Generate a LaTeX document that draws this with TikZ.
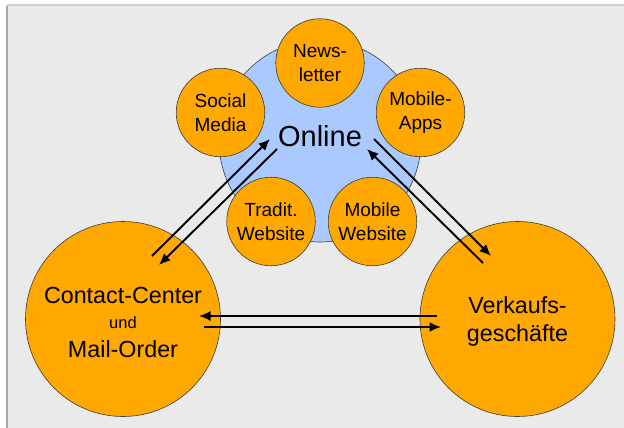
\documentclass[tikz,border=0pt]{standalone}
\usepackage{fontspec}
\setmainfont{Liberation Sans}
\usetikzlibrary{arrows.meta}
\definecolor{panelgray}{HTML}{EAEAEA}
\definecolor{channelorange}{HTML}{FFA800}
\definecolor{onlineblue}{HTML}{A9C9FF}
\definecolor{rimgray}{HTML}{3C3C3C}
\tikzset{
    channel/.style={circle, fill=channelorange, draw=rimgray, line width=0.6pt, inner sep=0pt, align=center},
    bigchannel/.style={channel, minimum size=195pt, font=\fontsize{23.3}{28}\selectfont},
    subchannel/.style={channel, minimum size=88.5pt, font=\fontsize{19}{24}\selectfont},
    hub/.style={circle, fill=onlineblue, draw=rimgray, line width=0.6pt, inner sep=0pt, minimum size=202pt},
    flow/.style={-{Latex[length=11.5pt,width=10pt]}, line width=1.9pt},
}
\begin{document}
\begin{tikzpicture}[x=1pt,y=-1pt]
        \useasboundingbox (0,0) rectangle (624,428);
        \fill [white] (0,0) rectangle (624,428);
        \fill [panelgray] (7,6) rectangle (624,428);
        \draw [gray!40, line width=2pt] (7,5) -- (624,5);
        \draw [gray!70, line width=1.2pt] (7,6) -- (7,428);
        % the three channels
        \node [bigchannel] (contact) at (123,319) {\rule{0pt}{23pt}Contact-Center\\[-3pt]{\fontsize{16.5}{20}\selectfont und}\\[1pt]Mail-Order};
        \node [bigchannel] (shops) at (517.5,319) {\rule{0pt}{22pt}Verkaufs-\\geschäfte};
        \node [hub] (online) at (320,141) {};
        % online sub-channels
        \node [subchannel] (newsletter) at (320,63) {News-\\letter};
        \node [subchannel] (social) at (220.5,112.5) {Social\\Media};
        \node [subchannel] (apps) at (420.5,112.5) {Mobile-\\Apps};
        \node [subchannel] (website) at (271,221.5) {Tradit.\\Website};
        \node [subchannel] (mobileweb) at (372.5,221.5) {Mobile\\Website};
        \node [font=\fontsize{29}{34}\selectfont] (onlinetext) at (320,136.5) {Online};
        % flows between channels
        \draw [flow] ([shift={(29,-63)}]contact.center) -- ([shift={(-50,-2)}]online.center);
        \draw [flow] ([shift={(-43,8)}]online.center) -- ([shift={(36,-54)}]contact.center);
        \draw [flow] ([shift={(54,-2)}]online.center) -- ([shift={(-26.5,-63)}]shops.center);
        \draw [flow] ([shift={(-34.5,-56)}]shops.center) -- ([shift={(47,8)}]online.center);
        \draw [flow] ([shift={(-80.5,-3)}]shops.center) -- ([shift={(76,-3)}]contact.center);
        \draw [flow] ([shift={(81,8)}]contact.center) -- ([shift={(-76.5,8)}]shops.center);
    \end{tikzpicture}
\end{document}
